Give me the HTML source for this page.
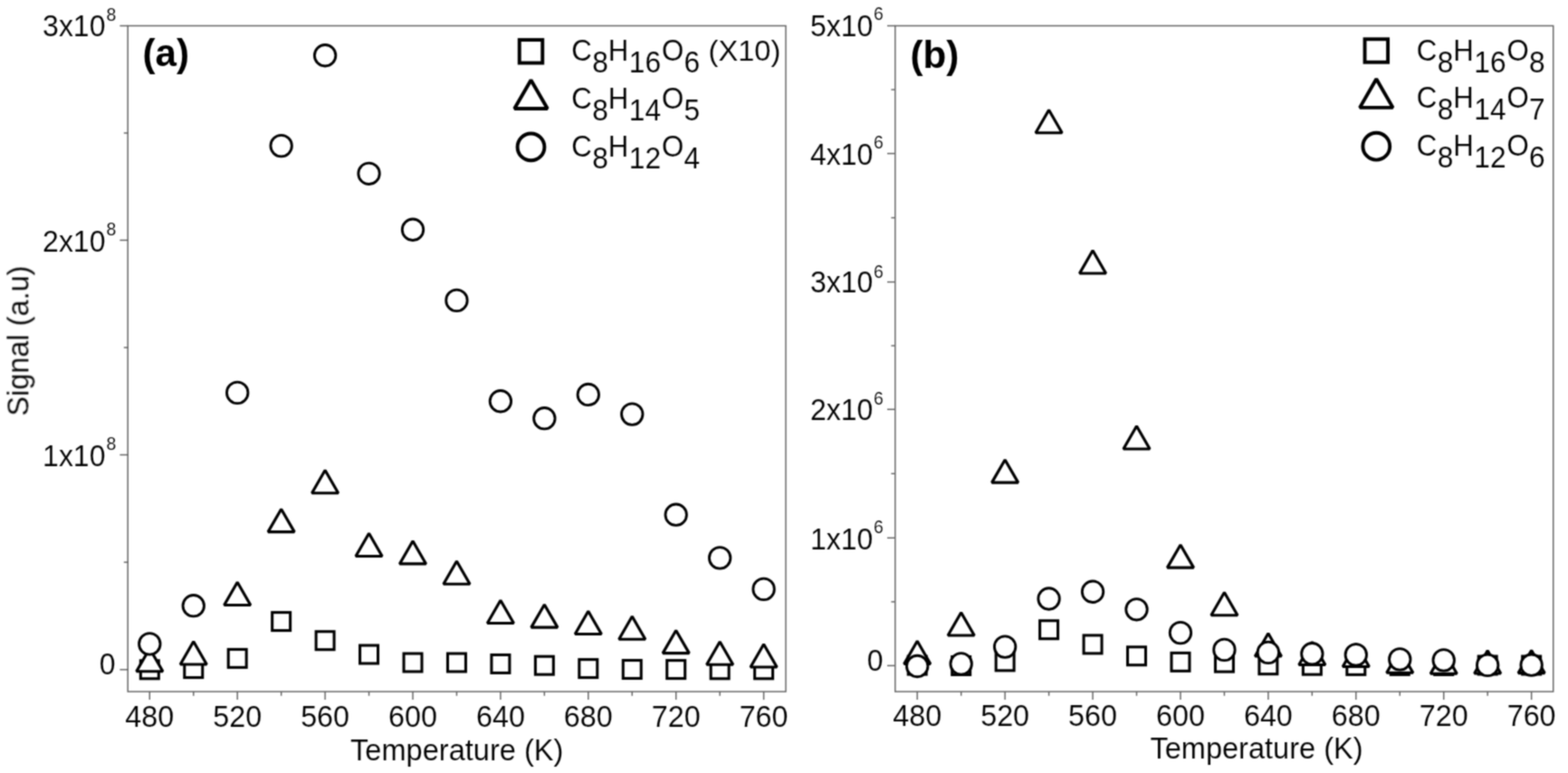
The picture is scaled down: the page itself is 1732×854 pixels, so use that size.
<!DOCTYPE html>
<html lang="en">
<head>
<meta charset="utf-8">
<title>Signal vs Temperature</title>
<style>
html,body{margin:0;padding:0;background:#fff;}
body{width:1732px;height:854px;overflow:hidden;}
svg{display:block;}
text{white-space:pre;}
</style>
</head>
<body>
<svg width="1732" height="854" viewBox="0 0 1732 854">
<defs><filter id="soft" x="0" y="0" width="1732" height="854" filterUnits="userSpaceOnUse" color-interpolation-filters="sRGB"><feConvolveMatrix order="3" kernelMatrix="1 2 1 2 6 2 1 2 1" divisor="18" edgeMode="duplicate" preserveAlpha="false"/></filter></defs>
<rect width="1732" height="854" fill="#fff"/>
<g filter="url(#soft)">
<g fill="#000" stroke="#fff" stroke-width="0.12" font-family='"Liberation Sans", sans-serif'>
<g id="panel-a">
<g stroke="#5e5e5e" stroke-width="1.4" fill="none">
<rect x="141.2" y="28.5" width="726.80" height="735.60"/>
<line x1="132.40" y1="739.80" x2="141.20" y2="739.80"/>
<line x1="136.80" y1="621.15" x2="141.20" y2="621.15"/>
<line x1="132.40" y1="502.50" x2="141.20" y2="502.50"/>
<line x1="136.80" y1="383.95" x2="141.20" y2="383.95"/>
<line x1="132.40" y1="265.40" x2="141.20" y2="265.40"/>
<line x1="136.80" y1="146.95" x2="141.20" y2="146.95"/>
<line x1="132.40" y1="28.50" x2="141.20" y2="28.50"/>
<line x1="165.30" y1="764.10" x2="165.30" y2="773.10"/>
<line x1="213.75" y1="764.10" x2="213.75" y2="768.70"/>
<line x1="262.20" y1="764.10" x2="262.20" y2="773.10"/>
<line x1="310.65" y1="764.10" x2="310.65" y2="768.70"/>
<line x1="359.10" y1="764.10" x2="359.10" y2="773.10"/>
<line x1="407.55" y1="764.10" x2="407.55" y2="768.70"/>
<line x1="456.00" y1="764.10" x2="456.00" y2="773.10"/>
<line x1="504.45" y1="764.10" x2="504.45" y2="768.70"/>
<line x1="552.90" y1="764.10" x2="552.90" y2="773.10"/>
<line x1="601.35" y1="764.10" x2="601.35" y2="768.70"/>
<line x1="649.80" y1="764.10" x2="649.80" y2="773.10"/>
<line x1="698.25" y1="764.10" x2="698.25" y2="768.70"/>
<line x1="746.70" y1="764.10" x2="746.70" y2="773.10"/>
<line x1="795.15" y1="764.10" x2="795.15" y2="768.70"/>
<line x1="843.60" y1="764.10" x2="843.60" y2="773.10"/>
</g>
<g>
<text transform="translate(127.50,745.40) scale(0.94,1)" font-size="34.0" text-anchor="end">0</text>
<text transform="translate(116.40,514.80) scale(0.94,1)" font-size="34.0" text-anchor="end">1x10<tspan x="1.17" y="-17.75" font-size="20.6" text-anchor="start">8</tspan></text>
<text transform="translate(116.40,277.50) scale(0.94,1)" font-size="34.0" text-anchor="end">2x10<tspan x="1.17" y="-17.55" font-size="20.6" text-anchor="start">8</tspan></text>
<text transform="translate(116.40,40.00) scale(0.94,1)" font-size="34.0" text-anchor="end">3x10<tspan x="1.17" y="-17.20" font-size="20.6" text-anchor="start">8</tspan></text>
<text transform="translate(165.30,802.60) scale(0.95,1)" font-size="34.0" text-anchor="middle">480</text>
<text transform="translate(262.20,802.60) scale(0.95,1)" font-size="34.0" text-anchor="middle">520</text>
<text transform="translate(359.10,802.60) scale(0.95,1)" font-size="34.0" text-anchor="middle">560</text>
<text transform="translate(456.00,802.60) scale(0.95,1)" font-size="34.0" text-anchor="middle">600</text>
<text transform="translate(552.90,802.60) scale(0.95,1)" font-size="34.0" text-anchor="middle">640</text>
<text transform="translate(649.80,802.60) scale(0.95,1)" font-size="34.0" text-anchor="middle">680</text>
<text transform="translate(746.70,802.60) scale(0.95,1)" font-size="34.0" text-anchor="middle">720</text>
<text transform="translate(843.60,802.60) scale(0.95,1)" font-size="34.0" text-anchor="middle">760</text>
</g>
<text x="387.10" y="839.70" font-size="32.6" textLength="235.2" lengthAdjust="spacingAndGlyphs">Temperature (K)</text>
<text transform="translate(157.50,72.80) scale(1.012,1)" font-size="41.6" font-weight="bold" fill="#000" stroke="none">(a)</text>
<g fill="#fff" stroke="#000" stroke-linejoin="miter" stroke-miterlimit="1.8">
<rect x="155.33" y="729.82" width="19.95" height="19.95" stroke-width="3.05"/>
<rect x="203.78" y="728.62" width="19.95" height="19.95" stroke-width="3.05"/>
<rect x="252.23" y="717.42" width="19.95" height="19.95" stroke-width="3.05"/>
<rect x="300.68" y="676.62" width="19.95" height="19.95" stroke-width="3.05"/>
<rect x="349.12" y="697.73" width="19.95" height="19.95" stroke-width="3.05"/>
<rect x="397.57" y="713.02" width="19.95" height="19.95" stroke-width="3.05"/>
<rect x="446.03" y="722.02" width="19.95" height="19.95" stroke-width="3.05"/>
<rect x="494.48" y="722.02" width="19.95" height="19.95" stroke-width="3.05"/>
<rect x="542.93" y="723.48" width="19.95" height="19.95" stroke-width="3.05"/>
<rect x="591.38" y="725.23" width="19.95" height="19.95" stroke-width="3.05"/>
<rect x="639.82" y="728.62" width="19.95" height="19.95" stroke-width="3.05"/>
<rect x="688.27" y="729.52" width="19.95" height="19.95" stroke-width="3.05"/>
<rect x="736.73" y="729.62" width="19.95" height="19.95" stroke-width="3.05"/>
<rect x="785.18" y="729.82" width="19.95" height="19.95" stroke-width="3.05"/>
<rect x="833.63" y="729.82" width="19.95" height="19.95" stroke-width="3.05"/>
<polygon points="165.30,716.52 150.75,741.72 179.85,741.72" stroke-width="3.15"/>
<polygon points="213.75,708.82 199.20,734.02 228.30,734.02" stroke-width="3.15"/>
<polygon points="262.20,643.32 247.65,668.52 276.75,668.52" stroke-width="3.15"/>
<polygon points="310.65,562.42 296.10,587.62 325.20,587.62" stroke-width="3.15"/>
<polygon points="359.10,519.52 344.55,544.72 373.65,544.72" stroke-width="3.15"/>
<polygon points="407.55,589.32 393.00,614.52 422.10,614.52" stroke-width="3.15"/>
<polygon points="456.00,597.72 441.45,622.92 470.55,622.92" stroke-width="3.15"/>
<polygon points="504.45,620.02 489.90,645.22 519.00,645.22" stroke-width="3.15"/>
<polygon points="552.90,663.32 538.35,688.52 567.45,688.52" stroke-width="3.15"/>
<polygon points="601.35,667.92 586.80,693.12 615.90,693.12" stroke-width="3.15"/>
<polygon points="649.80,675.32 635.25,700.52 664.35,700.52" stroke-width="3.15"/>
<polygon points="698.25,681.02 683.70,706.22 712.80,706.22" stroke-width="3.15"/>
<polygon points="746.70,696.42 732.15,721.62 761.25,721.62" stroke-width="3.15"/>
<polygon points="795.15,709.02 780.60,734.22 809.70,734.22" stroke-width="3.15"/>
<polygon points="843.60,711.82 829.05,737.02 858.15,737.02" stroke-width="3.15"/>
<circle cx="165.30" cy="711.40" r="11.72" stroke-width="2.85"/>
<circle cx="213.75" cy="669.20" r="11.72" stroke-width="2.85"/>
<circle cx="262.20" cy="433.90" r="11.72" stroke-width="2.85"/>
<circle cx="310.65" cy="161.10" r="11.72" stroke-width="2.85"/>
<circle cx="359.10" cy="61.25" r="11.72" stroke-width="2.85"/>
<circle cx="407.55" cy="191.80" r="11.72" stroke-width="2.85"/>
<circle cx="456.00" cy="253.75" r="11.72" stroke-width="2.85"/>
<circle cx="504.45" cy="331.90" r="11.72" stroke-width="2.85"/>
<circle cx="552.90" cy="443.25" r="11.72" stroke-width="2.85"/>
<circle cx="601.35" cy="462.20" r="11.72" stroke-width="2.85"/>
<circle cx="649.80" cy="435.95" r="11.72" stroke-width="2.85"/>
<circle cx="698.25" cy="457.60" r="11.72" stroke-width="2.85"/>
<circle cx="746.70" cy="568.70" r="11.72" stroke-width="2.85"/>
<circle cx="795.15" cy="616.40" r="11.72" stroke-width="2.85"/>
<circle cx="843.60" cy="650.90" r="11.72" stroke-width="2.85"/>
<rect x="573.75" y="44.05" width="25.50" height="25.50" stroke-width="3.9"/>
<polygon points="586.50,88.44 568.25,120.05 604.75,120.05" stroke-width="3.9"/>
<circle cx="586.50" cy="162.40" r="14.90" stroke-width="3.9"/>
</g>
<text transform="translate(632.70,67.30) scale(0.945,1)" font-size="32.3"><tspan x="-1.57" y="0" textLength="23.82" lengthAdjust="spacingAndGlyphs">C</tspan><tspan x="22.69" y="12.75" font-size="33.5">8</tspan><tspan x="41.31" y="0" textLength="23.82" lengthAdjust="spacingAndGlyphs">H</tspan><tspan x="65.79" y="12.75" font-size="33.5">16</tspan><tspan x="103.94" y="0" textLength="25.66" lengthAdjust="spacingAndGlyphs">O</tspan><tspan x="130.05" y="12.75" font-size="33.5">6</tspan> <tspan x="158.62" y="-0.1" font-size="31.5" textLength="84.36" lengthAdjust="spacingAndGlyphs">(X10)</tspan></text>
<text transform="translate(632.70,120.20) scale(0.945,1)" font-size="32.3"><tspan x="-1.57" y="0" textLength="23.82" lengthAdjust="spacingAndGlyphs">C</tspan><tspan x="22.69" y="12.75" font-size="33.5">8</tspan><tspan x="41.31" y="0" textLength="23.82" lengthAdjust="spacingAndGlyphs">H</tspan><tspan x="65.79" y="12.75" font-size="33.5">14</tspan><tspan x="103.94" y="0" textLength="25.66" lengthAdjust="spacingAndGlyphs">O</tspan><tspan x="130.05" y="12.75" font-size="33.5">5</tspan></text>
<text transform="translate(632.70,172.90) scale(0.945,1)" font-size="32.3"><tspan x="-1.57" y="0" textLength="23.82" lengthAdjust="spacingAndGlyphs">C</tspan><tspan x="22.69" y="13.05" font-size="33.5">8</tspan><tspan x="41.31" y="0" textLength="23.82" lengthAdjust="spacingAndGlyphs">H</tspan><tspan x="65.79" y="13.05" font-size="33.5">12</tspan><tspan x="103.94" y="0" textLength="25.66" lengthAdjust="spacingAndGlyphs">O</tspan><tspan x="130.05" y="13.05" font-size="33.5">4</tspan></text>
</g>
<g id="panel-b">
<g stroke="#5e5e5e" stroke-width="1.4" fill="none">
<rect x="988.8" y="28.5" width="726.90" height="735.60"/>
<line x1="980.00" y1="735.40" x2="988.80" y2="735.40"/>
<line x1="984.40" y1="664.85" x2="988.80" y2="664.85"/>
<line x1="980.00" y1="594.30" x2="988.80" y2="594.30"/>
<line x1="984.40" y1="523.30" x2="988.80" y2="523.30"/>
<line x1="980.00" y1="452.30" x2="988.80" y2="452.30"/>
<line x1="984.40" y1="381.93" x2="988.80" y2="381.93"/>
<line x1="980.00" y1="311.55" x2="988.80" y2="311.55"/>
<line x1="984.40" y1="240.57" x2="988.80" y2="240.57"/>
<line x1="980.00" y1="169.60" x2="988.80" y2="169.60"/>
<line x1="984.40" y1="99.05" x2="988.80" y2="99.05"/>
<line x1="980.00" y1="28.50" x2="988.80" y2="28.50"/>
<line x1="1013.20" y1="764.10" x2="1013.20" y2="773.10"/>
<line x1="1061.66" y1="764.10" x2="1061.66" y2="768.70"/>
<line x1="1110.12" y1="764.10" x2="1110.12" y2="773.10"/>
<line x1="1158.58" y1="764.10" x2="1158.58" y2="768.70"/>
<line x1="1207.04" y1="764.10" x2="1207.04" y2="773.10"/>
<line x1="1255.50" y1="764.10" x2="1255.50" y2="768.70"/>
<line x1="1303.96" y1="764.10" x2="1303.96" y2="773.10"/>
<line x1="1352.42" y1="764.10" x2="1352.42" y2="768.70"/>
<line x1="1400.88" y1="764.10" x2="1400.88" y2="773.10"/>
<line x1="1449.34" y1="764.10" x2="1449.34" y2="768.70"/>
<line x1="1497.80" y1="764.10" x2="1497.80" y2="773.10"/>
<line x1="1546.26" y1="764.10" x2="1546.26" y2="768.70"/>
<line x1="1594.72" y1="764.10" x2="1594.72" y2="773.10"/>
<line x1="1643.18" y1="764.10" x2="1643.18" y2="768.70"/>
<line x1="1691.64" y1="764.10" x2="1691.64" y2="773.10"/>
</g>
<g>
<text transform="translate(975.45,740.95) scale(0.94,1)" font-size="34.0" text-anchor="end">0</text>
<text transform="translate(964.30,606.50) scale(0.94,1)" font-size="34.0" text-anchor="end">1x10<tspan x="0.64" y="-17.70" font-size="20.6" text-anchor="start">6</tspan></text>
<text transform="translate(964.30,464.30) scale(0.94,1)" font-size="34.0" text-anchor="end">2x10<tspan x="0.64" y="-17.25" font-size="20.6" text-anchor="start">6</tspan></text>
<text transform="translate(964.30,322.95) scale(0.94,1)" font-size="34.0" text-anchor="end">3x10<tspan x="0.64" y="-16.30" font-size="20.6" text-anchor="start">6</tspan></text>
<text transform="translate(964.30,181.90) scale(0.94,1)" font-size="34.0" text-anchor="end">4x10<tspan x="0.64" y="-17.55" font-size="20.6" text-anchor="start">6</tspan></text>
<text transform="translate(964.30,40.05) scale(0.94,1)" font-size="34.0" text-anchor="end">5x10<tspan x="0.64" y="-17.60" font-size="20.6" text-anchor="start">6</tspan></text>
<text transform="translate(1013.20,802.10) scale(0.95,1)" font-size="34.0" text-anchor="middle">480</text>
<text transform="translate(1110.12,802.10) scale(0.95,1)" font-size="34.0" text-anchor="middle">520</text>
<text transform="translate(1207.04,802.10) scale(0.95,1)" font-size="34.0" text-anchor="middle">560</text>
<text transform="translate(1303.96,802.10) scale(0.95,1)" font-size="34.0" text-anchor="middle">600</text>
<text transform="translate(1400.88,802.10) scale(0.95,1)" font-size="34.0" text-anchor="middle">640</text>
<text transform="translate(1497.80,802.10) scale(0.95,1)" font-size="34.0" text-anchor="middle">680</text>
<text transform="translate(1594.72,802.10) scale(0.95,1)" font-size="34.0" text-anchor="middle">720</text>
<text transform="translate(1691.64,802.10) scale(0.95,1)" font-size="34.0" text-anchor="middle">760</text>
</g>
<text x="1270.40" y="837.95" font-size="32.6" textLength="235.2" lengthAdjust="spacingAndGlyphs">Temperature (K)</text>
<text transform="translate(1005.50,75.30) scale(1.012,1)" font-size="41.6" font-weight="bold" fill="#000" stroke="none">(b)</text>
<g fill="#fff" stroke="#000" stroke-linejoin="miter" stroke-miterlimit="1.8">
<rect x="1003.23" y="725.12" width="19.95" height="19.95" stroke-width="3.05"/>
<rect x="1051.69" y="725.52" width="19.95" height="19.95" stroke-width="3.05"/>
<rect x="1100.15" y="720.88" width="19.95" height="19.95" stroke-width="3.05"/>
<rect x="1148.61" y="685.73" width="19.95" height="19.95" stroke-width="3.05"/>
<rect x="1197.07" y="701.92" width="19.95" height="19.95" stroke-width="3.05"/>
<rect x="1245.53" y="714.77" width="19.95" height="19.95" stroke-width="3.05"/>
<rect x="1293.99" y="721.38" width="19.95" height="19.95" stroke-width="3.05"/>
<rect x="1342.45" y="722.17" width="19.95" height="19.95" stroke-width="3.05"/>
<rect x="1390.91" y="724.73" width="19.95" height="19.95" stroke-width="3.05"/>
<rect x="1439.37" y="725.23" width="19.95" height="19.95" stroke-width="3.05"/>
<rect x="1487.83" y="725.42" width="19.95" height="19.95" stroke-width="3.05"/>
<rect x="1536.29" y="725.42" width="19.95" height="19.95" stroke-width="3.05"/>
<rect x="1584.75" y="725.52" width="19.95" height="19.95" stroke-width="3.05"/>
<rect x="1633.21" y="725.02" width="19.95" height="19.95" stroke-width="3.05"/>
<rect x="1681.67" y="725.02" width="19.95" height="19.95" stroke-width="3.05"/>
<polygon points="1013.20,708.32 998.65,733.52 1027.75,733.52" stroke-width="3.15"/>
<polygon points="1061.66,676.82 1047.11,702.02 1076.21,702.02" stroke-width="3.15"/>
<polygon points="1110.12,507.92 1095.57,533.12 1124.67,533.12" stroke-width="3.15"/>
<polygon points="1158.58,121.52 1144.03,146.73 1173.13,146.73" stroke-width="3.15"/>
<polygon points="1207.04,276.82 1192.49,302.03 1221.59,302.03" stroke-width="3.15"/>
<polygon points="1255.50,470.82 1240.95,496.03 1270.05,496.03" stroke-width="3.15"/>
<polygon points="1303.96,601.92 1289.41,627.12 1318.51,627.12" stroke-width="3.15"/>
<polygon points="1352.42,654.52 1337.87,679.72 1366.97,679.72" stroke-width="3.15"/>
<polygon points="1400.88,699.82 1386.33,725.02 1415.43,725.02" stroke-width="3.15"/>
<polygon points="1449.34,709.32 1434.79,734.52 1463.89,734.52" stroke-width="3.15"/>
<polygon points="1497.80,711.32 1483.25,736.52 1512.35,736.52" stroke-width="3.15"/>
<polygon points="1546.26,718.02 1531.71,743.22 1560.81,743.22" stroke-width="3.15"/>
<polygon points="1594.72,719.02 1580.17,744.22 1609.27,744.22" stroke-width="3.15"/>
<polygon points="1643.18,718.82 1628.63,744.02 1657.73,744.02" stroke-width="3.15"/>
<polygon points="1691.64,718.42 1677.09,743.62 1706.19,743.62" stroke-width="3.15"/>
<circle cx="1013.20" cy="736.00" r="11.72" stroke-width="2.85"/>
<circle cx="1061.66" cy="733.40" r="11.72" stroke-width="2.85"/>
<circle cx="1110.12" cy="714.60" r="11.72" stroke-width="2.85"/>
<circle cx="1158.58" cy="661.50" r="11.72" stroke-width="2.85"/>
<circle cx="1207.04" cy="653.75" r="11.72" stroke-width="2.85"/>
<circle cx="1255.50" cy="673.30" r="11.72" stroke-width="2.85"/>
<circle cx="1303.96" cy="699.10" r="11.72" stroke-width="2.85"/>
<circle cx="1352.42" cy="717.90" r="11.72" stroke-width="2.85"/>
<circle cx="1400.88" cy="720.90" r="11.72" stroke-width="2.85"/>
<circle cx="1449.34" cy="722.25" r="11.72" stroke-width="2.85"/>
<circle cx="1497.80" cy="723.40" r="11.72" stroke-width="2.85"/>
<circle cx="1546.26" cy="728.40" r="11.72" stroke-width="2.85"/>
<circle cx="1594.72" cy="729.40" r="11.72" stroke-width="2.85"/>
<circle cx="1643.18" cy="734.90" r="11.72" stroke-width="2.85"/>
<circle cx="1691.64" cy="734.70" r="11.72" stroke-width="2.85"/>
<rect x="1507.55" y="43.25" width="25.50" height="25.50" stroke-width="3.9"/>
<polygon points="1520.30,87.24 1502.05,118.85 1538.55,118.85" stroke-width="3.9"/>
<circle cx="1520.30" cy="161.70" r="14.90" stroke-width="3.9"/>
</g>
<text transform="translate(1566.20,67.00) scale(0.945,1)" font-size="32.3"><tspan x="-1.57" y="0" textLength="23.82" lengthAdjust="spacingAndGlyphs">C</tspan><tspan x="22.69" y="12.75" font-size="33.5">8</tspan><tspan x="41.31" y="0" textLength="23.82" lengthAdjust="spacingAndGlyphs">H</tspan><tspan x="65.79" y="12.75" font-size="33.5">16</tspan><tspan x="103.94" y="0" textLength="25.66" lengthAdjust="spacingAndGlyphs">O</tspan><tspan x="130.05" y="12.75" font-size="33.5">8</tspan></text>
<text transform="translate(1566.20,119.30) scale(0.945,1)" font-size="32.3"><tspan x="-1.57" y="0" textLength="23.82" lengthAdjust="spacingAndGlyphs">C</tspan><tspan x="22.69" y="12.55" font-size="33.5">8</tspan><tspan x="41.31" y="0" textLength="23.82" lengthAdjust="spacingAndGlyphs">H</tspan><tspan x="65.79" y="12.55" font-size="33.5">14</tspan><tspan x="103.94" y="0" textLength="25.66" lengthAdjust="spacingAndGlyphs">O</tspan><tspan x="130.05" y="12.55" font-size="33.5">7</tspan></text>
<text transform="translate(1566.20,172.00) scale(0.945,1)" font-size="32.3"><tspan x="-1.57" y="0" textLength="23.82" lengthAdjust="spacingAndGlyphs">C</tspan><tspan x="22.69" y="12.95" font-size="33.5">8</tspan><tspan x="41.31" y="0" textLength="23.82" lengthAdjust="spacingAndGlyphs">H</tspan><tspan x="65.79" y="12.95" font-size="33.5">12</tspan><tspan x="103.94" y="0" textLength="25.66" lengthAdjust="spacingAndGlyphs">O</tspan><tspan x="130.05" y="12.95" font-size="33.5">6</tspan></text>
</g>
<text transform="translate(31.4,459.6) rotate(-90)" font-size="32.6" textLength="166.2" lengthAdjust="spacingAndGlyphs">Signal (a.u)</text>
</g>
</g>
</svg>
</body>
</html>
